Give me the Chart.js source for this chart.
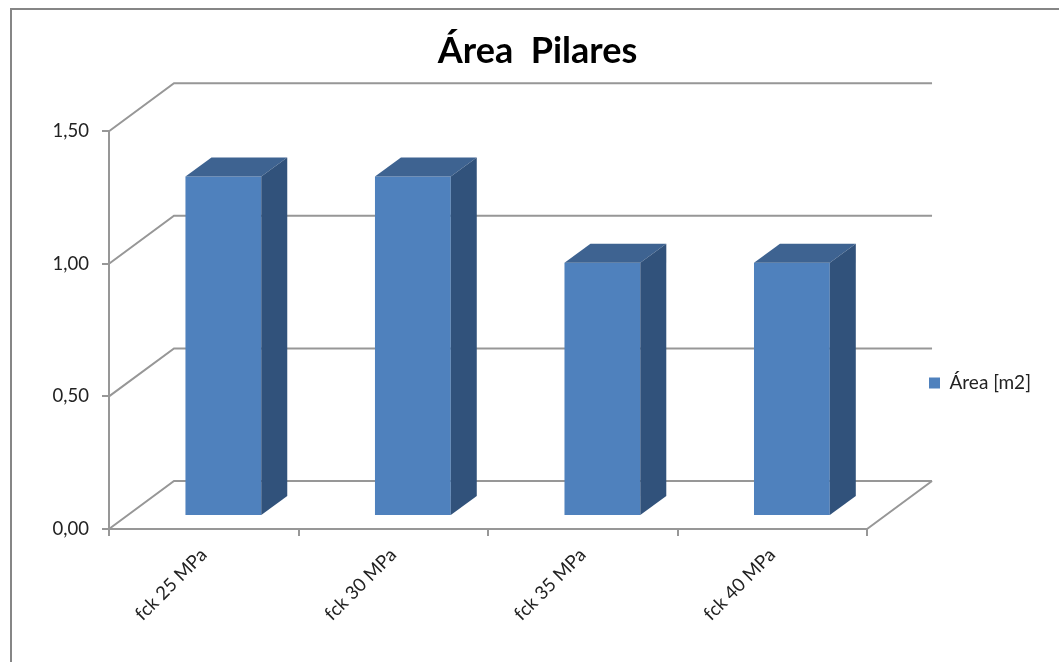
<!DOCTYPE html>
<html lang="pt">
<head>
<meta charset="utf-8">
<title>Área Pilares</title>
<style>
  html, body { margin: 0; padding: 0; background: #fff; overflow: hidden; }
  canvas { display: block; }
</style>
<script src="https://cdn.jsdelivr.net/npm/chart.js@4"></script>
</head>
<body>
<canvas id="chart" width="1059" height="662"></canvas>
<script>
const categories = ['fck 25 MPa', 'fck 30 MPa', 'fck 35 MPa', 'fck 40 MPa'];
const areaValues = [1.28, 1.28, 0.955, 0.955];
const seriesName = 'Área [m2]';
const chartTitle = 'Área  Pilares';
const yTicks = [0, 0.5, 1, 1.5];

const FONT = 'Lato, Carlito, Calibri, sans-serif';
const LINE = '#979797';
const FRONT = '#4F81BD';
const TOP = '#3E6391';
const SIDE = '#31527B';

// Pseudo-3D projection: the wall sits behind the axis plane, the columns mid-depth.
const WALL = { dx: 65, dy: -48 };
const BAR_FRONT = { dx: 19.6, dy: -13 };
const BAR_DEPTH = { dx: 26, dy: -19 };

const frame = {
  id: 'frame',
  beforeDraw(chart) {
    const c = chart.ctx;
    c.save();
    c.strokeStyle = '#868686';
    c.lineWidth = 2;
    c.beginPath();
    c.moveTo(11, 662);
    c.lineTo(11, 9);
    c.lineTo(1059, 9);
    c.stroke();
    c.restore();
  }
};

const placement = {
  id: 'placement',
  afterLayout(chart) {
    // Legend and title sit at fixed spots, independent of the plot box.
    const lg = chart.legend;
    const h = lg.bottom - lg.top;
    lg.left = 919;
    lg.right = 1050;
    lg.top = 383 - h / 2;
    lg.bottom = lg.top + h;
    const t = chart.titleBlock;
    t.left = 0;
    t.right = 1075;
  }
};

const walls = {
  id: 'walls',
  beforeDatasetsDraw(chart) {
    const c = chart.ctx;
    const y = chart.scales.y;
    const x = chart.scales.x;
    c.save();
    c.strokeStyle = LINE;
    c.lineWidth = 2;
    c.lineJoin = 'miter';
    c.beginPath();
    yTicks.forEach(v => {
      const py = y.getPixelForValue(v);
      c.moveTo(x.left, py);
      c.lineTo(x.left + WALL.dx, py + WALL.dy);
      c.lineTo(x.right + WALL.dx, py + WALL.dy);
    });
    const base = y.getPixelForValue(0);
    c.moveTo(x.right, base);
    c.lineTo(x.right + WALL.dx, base + WALL.dy);
    c.stroke();
    c.restore();
  }
};

const columns = {
  id: 'columns',
  beforeDatasetDraw(chart) {
    // Shifts the library's own bars back to the mid-depth plane.
    chart.ctx.save();
    chart.ctx.translate(BAR_FRONT.dx, BAR_FRONT.dy);
  },
  afterDatasetDraw(chart) {
    const c = chart.ctx;
    chart.getDatasetMeta(0).data.forEach(bar => {
      const r = bar.x + bar.width / 2;
      const l = bar.x - bar.width / 2;
      const d = BAR_DEPTH;
      c.fillStyle = TOP;
      c.beginPath();
      c.moveTo(l, bar.y);
      c.lineTo(l + d.dx, bar.y + d.dy);
      c.lineTo(r + d.dx, bar.y + d.dy);
      c.lineTo(r, bar.y);
      c.closePath();
      c.fill();
      c.fillStyle = SIDE;
      c.beginPath();
      c.moveTo(r, bar.y);
      c.lineTo(r + d.dx, bar.y + d.dy);
      c.lineTo(r + d.dx, bar.base + d.dy);
      c.lineTo(r, bar.base);
      c.closePath();
      c.fill();
    });
    c.restore();
  }
};

new Chart(document.getElementById('chart'), {
  type: 'bar',
  data: {
    labels: categories,
    datasets: [{
      label: seriesName,
      data: areaValues,
      backgroundColor: FRONT,
      barPercentage: 0.5,
      categoryPercentage: 0.8
    }]
  },
  plugins: [frame, placement, walls, columns],
  options: {
    responsive: false,
    animation: false,
    layout: { padding: { left: 0, right: 70, top: 0, bottom: 0 } },
    plugins: {
      tooltip: { enabled: false },
      title: {
        display: true,
        text: chartTitle,
        color: '#000',
        font: { family: FONT, size: 36, weight: 'bold', lineHeight: 1.2 },
        padding: { top: 30, bottom: 58 }
      },
      legend: {
        display: true,
        position: 'right',
        labels: {
          boxWidth: 11,
          boxHeight: 11,
          color: '#222',
          font: { family: FONT, size: 19 },
          padding: 10
        }
      }
    },
    scales: {
      x: {
        border: { color: LINE, width: 2 },
        grid: { color: LINE, lineWidth: 2, drawOnChartArea: false, drawTicks: true, tickLength: 7 },
        afterFit(s) { s.height = 133; },
        ticks: {
          autoSkip: false,
          minRotation: 45,
          maxRotation: 45,
          color: '#222',
          font: { family: FONT, size: 18.5 },
          padding: 8
        }
      },
      y: {
        min: 0,
        max: 1.5,
        afterFit(s) { s.width = 109; },
        afterBuildTicks(s) { s.ticks = yTicks.map(value => ({ value })); },
        border: { color: LINE, width: 2 },
        grid: { color: LINE, lineWidth: 2, drawOnChartArea: false, drawTicks: true, tickLength: 7 },
        ticks: {
          color: '#222',
          font: { family: FONT, size: 18.5 },
          padding: 13,
          callback: v => v.toFixed(2).replace('.', ',')
        }
      }
    }
  }
});
</script>
</body>
</html>
